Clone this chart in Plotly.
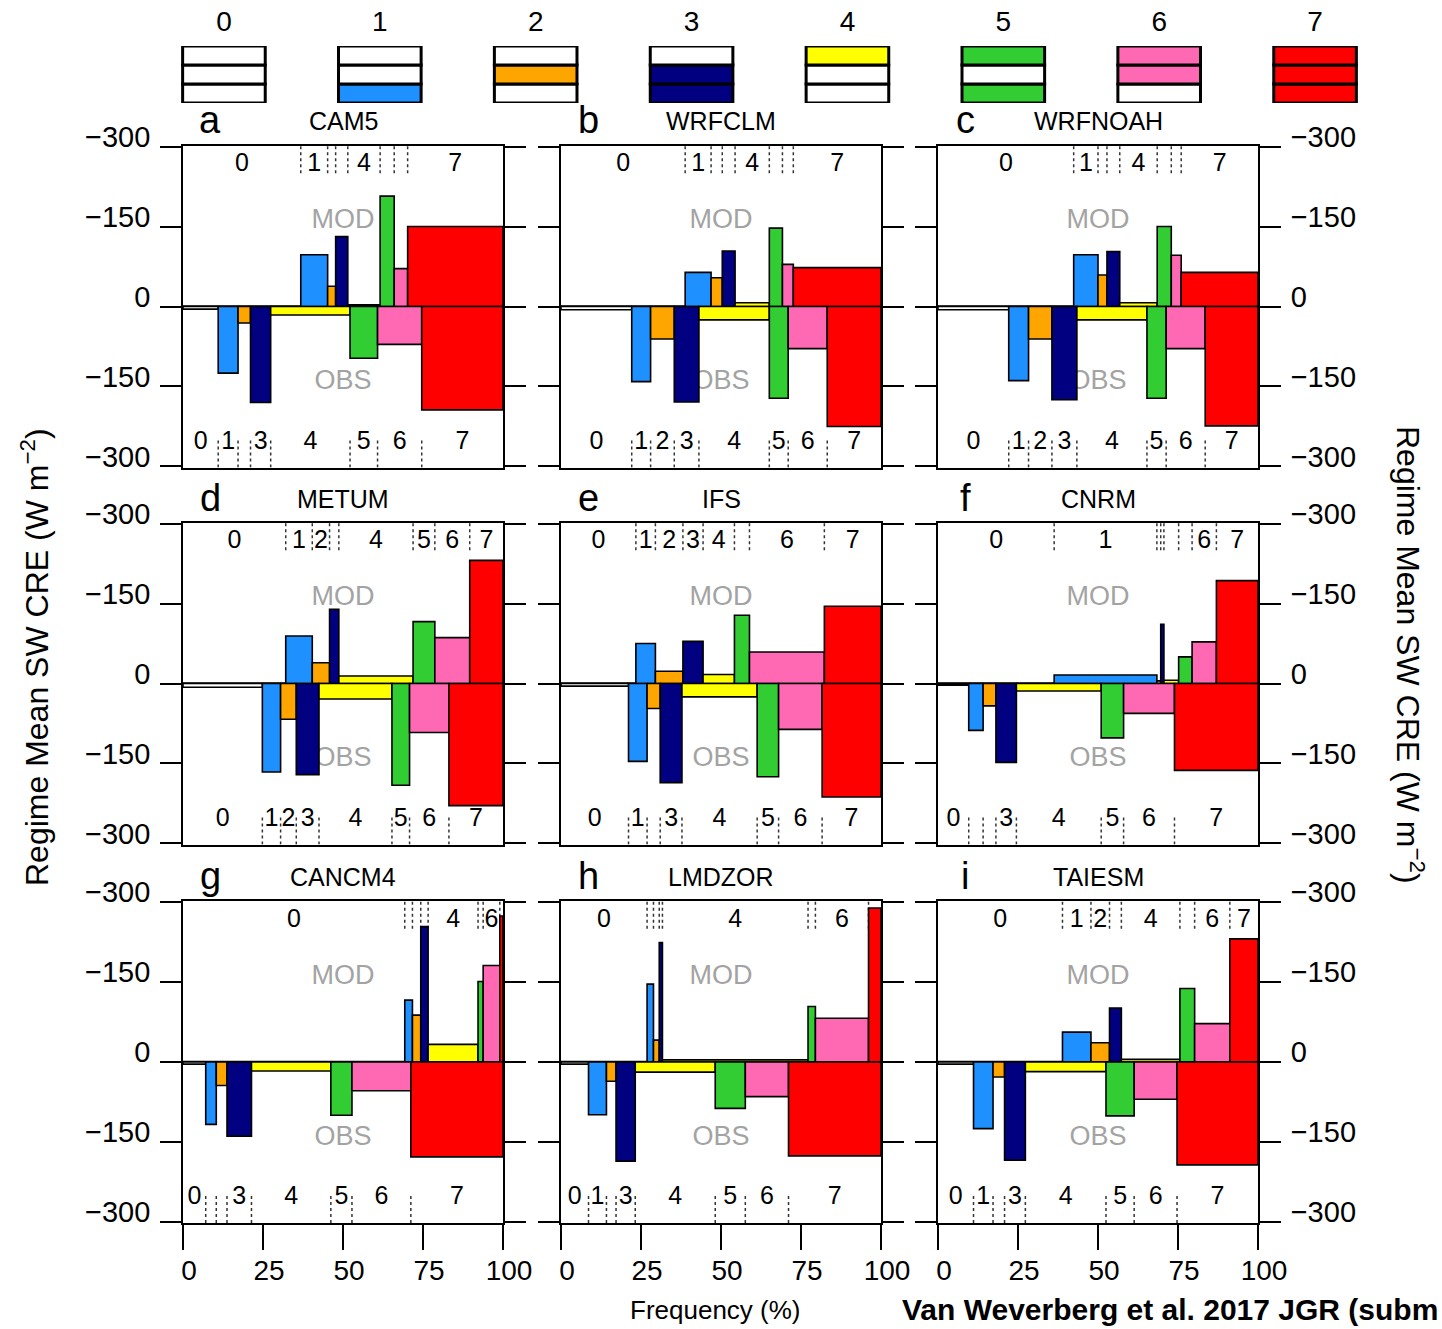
import plotly.graph_objects as go

# ---------------- data ----------------
REGIMES = [0, 1, 2, 3, 4, 5, 6, 7]
REGIME_LABELS = ["0", "1", "2", "3", "4", "5", "6", "7"]
REGIME_COLORS = ["#FFFFFF", "#1E90FF", "#FFA500", "#000080",
                 "#FFFF00", "#32CD32", "#FF69B4", "#FF0000"]
# cloud layers present in each regime (legend boxes)
HIGH = [0, 0, 0, 0, 1, 1, 1, 1]
MID = [0, 0, 1, 1, 0, 0, 1, 1]
LOW = [0, 1, 0, 1, 0, 1, 0, 1]

MODELS = ["CAM5", "WRFCLM", "WRFNOAH", "METUM", "IFS", "CNRM",
          "CANCM4", "LMDZOR", "TAIESM"]
PANEL_LETTERS = ["a", "b", "c", "d", "e", "f", "g", "h", "i"]

# frequency of occurrence (%) and regime-mean SW CRE (W m-2)
CAM5_MOD_FREQ = [36.8, 8.4, 2.5, 3.8, 10.1, 4.4, 4.2, 29.8]
CAM5_MOD_CRE = [-1, -97, -38, -131, -3, -207, -71, -150]
CAM5_OBS_FREQ = [11.0, 6.2, 3.9, 6.3, 24.8, 8.6, 13.8, 25.4]
CAM5_OBS_CRE = [-5, -125, -31, -180, -16, -97, -71, -194]

WRFCLM_MOD_FREQ = [38.8, 8.1, 3.5, 4.0, 10.7, 4.1, 3.4, 27.4]
WRFCLM_MOD_CRE = [-1, -64, -54, -104, -7, -147, -79, -73]
WRFCLM_OBS_FREQ = [22.1, 5.9, 7.4, 7.7, 22.0, 5.9, 12.2, 16.8]
WRFCLM_OBS_CRE = [-6, -141, -61, -179, -25, -172, -79, -225]

WRFNOAH_MOD_FREQ = [42.4, 7.6, 2.8, 4.0, 11.7, 4.4, 3.1, 24.0]
WRFNOAH_MOD_CRE = [-1, -97, -59, -103, -7, -150, -96, -64]
WRFNOAH_OBS_FREQ = [22.1, 6.2, 7.3, 7.8, 21.9, 6.0, 12.2, 16.5]
WRFNOAH_OBS_CRE = [-6, -139, -61, -175, -25, -172, -79, -224]

METUM_MOD_FREQ = [32.1, 8.3, 5.4, 2.9, 23.2, 6.8, 10.9, 10.4]
METUM_MOD_CRE = [-1, -89, -39, -139, -14, -116, -86, -231]
METUM_OBS_FREQ = [24.8, 5.7, 4.9, 7.1, 22.8, 5.5, 12.3, 16.9]
METUM_OBS_CRE = [-7, -166, -67, -171, -29, -191, -92, -229]

IFS_MOD_FREQ = [23.4, 6.1, 8.6, 6.3, 9.8, 4.7, 23.4, 17.7]
IFS_MOD_CRE = [-1, -75, -23, -79, -17, -128, -59, -145]
IFS_OBS_FREQ = [21.1, 5.8, 4.1, 6.8, 23.5, 6.7, 13.6, 18.4]
IFS_OBS_CRE = [-5, -146, -47, -186, -25, -175, -86, -213]

CNRM_MOD_FREQ = [36.3, 32.1, 1.2, 1.0, 4.6, 4.2, 7.6, 13.0]
CNRM_MOD_CRE = [-1, -16, -5, -111, -6, -50, -78, -193]
CNRM_OBS_FREQ = [9.6, 4.5, 4.0, 6.4, 26.5, 7.0, 15.9, 26.1]
CNRM_OBS_CRE = [-3, -88, -42, -148, -14, -102, -56, -163]

CANCM4_MOD_FREQ = [69.3, 2.4, 2.6, 2.3, 15.6, 1.6, 5.2, 1.0]
CANCM4_MOD_CRE = [-1, -116, -88, -254, -33, -151, -181, -274]
CANCM4_OBS_FREQ = [7.1, 3.3, 3.35, 7.65, 24.8, 6.6, 18.4, 28.8]
CANCM4_OBS_CRE = [-4, -117, -44, -139, -17, -100, -54, -178]

LMDZOR_MOD_FREQ = [26.9, 2.0, 1.8, 1.0, 45.5, 2.3, 16.6, 3.9]
LMDZOR_MOD_CRE = [-1, -146, -41, -224, -4, -104, -82, -289]
LMDZOR_OBS_FREQ = [8.6, 5.6, 3.0, 6.0, 25.0, 9.4, 13.5, 28.9]
LMDZOR_OBS_CRE = [-4, -99, -36, -186, -19, -87, -65, -176]

TAIESM_MOD_FREQ = [38.9, 8.9, 5.8, 3.7, 18.3, 4.6, 11.0, 8.8]
TAIESM_MOD_CRE = [-1, -56, -36, -101, -5, -138, -72, -231]
TAIESM_OBS_FREQ = [11.1, 6.1, 3.6, 6.5, 25.2, 8.8, 13.4, 25.3]
TAIESM_OBS_CRE = [-4, -125, -28, -184, -18, -101, -70, -193]

PANELS = [
    (CAM5_MOD_FREQ, CAM5_MOD_CRE, CAM5_OBS_FREQ, CAM5_OBS_CRE),
    (WRFCLM_MOD_FREQ, WRFCLM_MOD_CRE, WRFCLM_OBS_FREQ, WRFCLM_OBS_CRE),
    (WRFNOAH_MOD_FREQ, WRFNOAH_MOD_CRE, WRFNOAH_OBS_FREQ, WRFNOAH_OBS_CRE),
    (METUM_MOD_FREQ, METUM_MOD_CRE, METUM_OBS_FREQ, METUM_OBS_CRE),
    (IFS_MOD_FREQ, IFS_MOD_CRE, IFS_OBS_FREQ, IFS_OBS_CRE),
    (CNRM_MOD_FREQ, CNRM_MOD_CRE, CNRM_OBS_FREQ, CNRM_OBS_CRE),
    (CANCM4_MOD_FREQ, CANCM4_MOD_CRE, CANCM4_OBS_FREQ, CANCM4_OBS_CRE),
    (LMDZOR_MOD_FREQ, LMDZOR_MOD_CRE, LMDZOR_OBS_FREQ, LMDZOR_OBS_CRE),
    (TAIESM_MOD_FREQ, TAIESM_MOD_CRE, TAIESM_OBS_FREQ, TAIESM_OBS_CRE),
]

Y_TICKVALS = [-300, -150, 0, 150, 300]
Y_TICKTEXT = ["\u2212300", "\u2212150", "0", "\u2212150", "\u2212300"]
X_TICKVALS = [0, 25, 50, 75, 100]
X_TICKTEXT = ["0", "25", "50", "75", "100"]

# ---------------- layout geometry (pixels) ----------------
W, H = 1442, 1329
COL_X = [(183, 503), (561, 881), (938, 1258)]
ROW_Y = [(145.5, 467.5), (522.5, 844.5), (901, 1223)]
FONT = "Liberation Sans, Arial, Helvetica, sans-serif"
LABEL_MIN_FREQ = 4.8


def px(x):
    return x / W


def py(y):
    return 1 - y / H


fig = go.Figure()
layout = dict(
    width=W, height=H, margin=dict(l=0, r=0, t=0, b=0, autoexpand=False),
    paper_bgcolor="white", plot_bgcolor="white", showlegend=False,
    barmode="overlay", font=dict(family=FONT, color="black", size=26),
)
shapes = []
annotations = []


def starts_of(freq):
    s, out = 0.0, []
    for f in freq:
        out.append(s)
        s += f
    return out


for i, (mf, mc, of, oc) in enumerate(PANELS):
    r, c = divmod(i, 3)
    k = i + 1
    xn = "x" if k == 1 else f"x{k}"
    yn = "y" if k == 1 else f"y{k}"
    xkey = "xaxis" if k == 1 else f"xaxis{k}"
    ykey = "yaxis" if k == 1 else f"yaxis{k}"

    for freq, cre, sign in ((mf, mc, -1), (of, oc, 1)):
        st = starts_of(freq)
        centers = [s + f / 2 for s, f in zip(st, freq)]
        vals = [sign * v for v in cre]
        fig.add_trace(go.Bar(
            x=centers, y=vals, width=freq, base=0,
            marker=dict(color=REGIME_COLORS, line=dict(color="black", width=1.6)),
            xaxis=xn, yaxis=yn, cliponaxis=False, hoverinfo="skip",
        ))
        # dotted separators at regime boundaries
        for b in st[1:]:
            if sign < 0:
                y0, y1 = 250, 302
            else:
                y0, y1 = -302, -248
            shapes.append(dict(type="line", xref=xn, yref=yn, x0=b, x1=b,
                               y0=y0, y1=y1, layer="below",
                               line=dict(color="#333333", width=1.5, dash="dot")))
        # regime labels
        lx = [ctr for ctr, f in zip(centers, freq) if f >= LABEL_MIN_FREQ]
        lt = [REGIME_LABELS[j] for j, f in enumerate(freq) if f >= LABEL_MIN_FREQ]
        ly = [265 if sign < 0 else -255] * len(lx)
        fig.add_trace(go.Scatter(
            x=lx, y=ly, text=lt, mode="text",
            textfont=dict(size=25, color="black", family=FONT),
            xaxis=xn, yaxis=yn, cliponaxis=False, hoverinfo="skip",
        ))

    # MOD / OBS labels drawn beneath the bars
    for txt, yc in (("MOD", 169), ("OBS", -133)):
        shapes.append(dict(type="rect", xref=xn, yref=yn, x0=30, x1=70,
                           y0=yc - 20, y1=yc + 20, layer="below",
                           line=dict(width=0), fillcolor="rgba(0,0,0,0)",
                           label=dict(text=txt, textposition="middle center",
                                      font=dict(size=27, color="#A3A3A3", family=FONT))))

    x0p, x1p = COL_X[c]
    y0p, y1p = ROW_Y[r]
    layout[xkey] = dict(
        domain=[px(x0p), px(x1p)], range=[0, 100], anchor=yn,
        showline=True, linecolor="black", linewidth=1.8, mirror=True,
        showgrid=False, zeroline=False,
        ticks="outside" if r == 2 else "", ticklen=25, tickwidth=1.8, tickcolor="black",
        tickvals=X_TICKVALS, ticktext=X_TICKTEXT, showticklabels=(r == 2),
        tickfont=dict(size=28), ticklabelshift=6, ticklabelstandoff=-4,
        fixedrange=True,
    )
    layout[ykey] = dict(
        domain=[py(y1p), py(y0p)], range=[-302, 302], anchor=xn,
        showline=True, linecolor="black", linewidth=1.8, mirror="ticks",
        showgrid=False, zeroline=True, zerolinecolor="black", zerolinewidth=1.8,
        ticks="outside", ticklen=21, tickwidth=1.8, tickcolor="black",
        tickvals=Y_TICKVALS, ticktext=Y_TICKTEXT, showticklabels=(c != 1),
        side="right" if c == 2 else "left", tickfont=dict(size=29),
        ticklabelshift=-10, ticklabelstandoff=4, fixedrange=True,
    )

    annotations.append(dict(text=PANEL_LETTERS[i], xref="paper", yref="paper",
                            x=px(x0p + 27), y=py(y0p - 25), showarrow=False,
                            xanchor="center", yanchor="middle", font=dict(size=38)))
    annotations.append(dict(text=MODELS[i], xref="paper", yref="paper",
                            x=px((x0p + x1p) / 2), y=py(y0p - 24), showarrow=False,
                            xanchor="center", yanchor="middle", font=dict(size=25)))

# ---------------- regime legend (top) ----------------
for flags, base in ((LOW, 0), (MID, 1), (HIGH, 2)):
    fig.add_trace(go.Bar(
        x=REGIMES, y=[1] * len(REGIMES), base=[base] * len(REGIMES), width=0.53,
        marker=dict(color=[REGIME_COLORS[j] if flags[j] else "#FFFFFF" for j in REGIMES],
                    line=dict(color="black", width=3)),
        xaxis="x10", yaxis="y10", cliponaxis=False, hoverinfo="skip",
    ))
layout["xaxis10"] = dict(
    domain=[px(146), px(1393)], range=[-0.5, 7.5], anchor="y10", side="top",
    showline=False, showgrid=False, zeroline=False, ticks="",
    tickvals=REGIMES, ticktext=REGIME_LABELS, tickfont=dict(size=28),
    ticklabelstandoff=8, fixedrange=True,
)
layout["yaxis10"] = dict(
    domain=[py(103), py(46)], range=[0, 3], anchor="x10",
    showline=False, showgrid=False, zeroline=False, showticklabels=False,
    ticks="", fixedrange=True,
)

# ---------------- axis titles & credit ----------------
annotations.append(dict(text="Regime Mean SW CRE (W m<sup>\u22122</sup>)", xref="paper", yref="paper",
                        x=px(35), y=py(657), textangle=-90, showarrow=False,
                        xanchor="center", yanchor="middle", font=dict(size=32)))
annotations.append(dict(text="Regime Mean SW CRE (W m<sup>\u22122</sup>)", xref="paper", yref="paper",
                        x=px(1410), y=py(655), textangle=90, showarrow=False,
                        xanchor="center", yanchor="middle", font=dict(size=32)))
annotations.append(dict(text="Frequency (%)", xref="paper", yref="paper",
                        x=px(715), y=py(1310), showarrow=False,
                        xanchor="center", yanchor="middle", font=dict(size=26)))
annotations.append(dict(text="<b>Van Weverberg et al. 2017 JGR (subm</b>", xref="paper", yref="paper",
                        x=px(900), y=py(1309), showarrow=False,
                        xanchor="left", yanchor="middle", font=dict(size=30)))

layout["shapes"] = shapes
layout["annotations"] = annotations
fig.update_layout(**layout)
fig.write_html("out.html")
